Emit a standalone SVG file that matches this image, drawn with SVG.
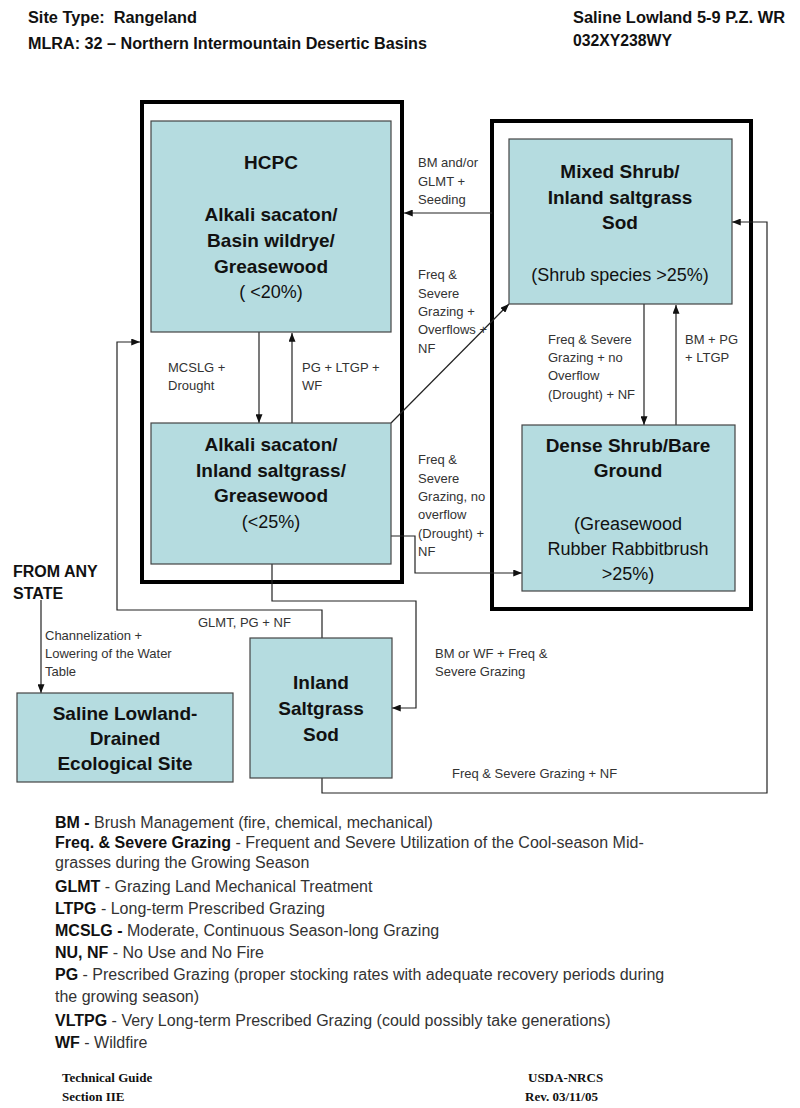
<svg xmlns="http://www.w3.org/2000/svg" width="800" height="1108" viewBox="0 0 800 1108">
<defs>
<marker id="arr" viewBox="0 0 10 8" markerWidth="9" markerHeight="7" refX="10" refY="4" orient="auto" markerUnits="userSpaceOnUse">
<path d="M0,0 L10,4 L0,8 z" fill="#111"/>
</marker>
<style>
.hdr{font-family:"Liberation Sans",Arial,sans-serif;font-size:16px;font-weight:bold;fill:#111}
.outer{fill:none;stroke:#000;stroke-width:4}
.box{fill:#b5dce0;stroke:#444;stroke-width:1.2}
.bt{font-family:"Liberation Sans",Arial,sans-serif;font-size:19px;font-weight:bold;fill:#111;text-anchor:middle}
.rt{font-family:"Liberation Sans",Arial,sans-serif;font-size:18px;fill:#111;text-anchor:middle}
.conn{fill:none;stroke:#222;stroke-width:1.2;marker-end:url(#arr)}
.line{fill:none;stroke:#222;stroke-width:1.2}
.lbl{font-family:"Liberation Sans",Arial,sans-serif;font-size:13px;fill:#333}
.leg{font-family:"Liberation Sans",Arial,sans-serif;font-size:16px;fill:#333}
.legb{font-weight:bold;fill:#111}
.ft{font-family:"Liberation Serif","Times New Roman",serif;font-size:13px;font-weight:bold;fill:#111}
</style>
</defs>
<rect width="800" height="1108" fill="#fff"/>

<g id="header">
<text class="hdr" x="28" y="22.5" xml:space="preserve" textLength="169" lengthAdjust="spacingAndGlyphs">Site Type:  Rangeland</text>
<text class="hdr" x="28" y="49" textLength="399" lengthAdjust="spacingAndGlyphs">MLRA: 32 – Northern Intermountain Desertic Basins</text>
<text class="hdr" x="573" y="22.5" textLength="212" lengthAdjust="spacingAndGlyphs">Saline Lowland 5-9 P.Z. WR</text>
<text class="hdr" x="573" y="45.5" textLength="99" lengthAdjust="spacingAndGlyphs">032XY238WY</text>
</g>

<g id="state-left"><rect class="outer" x="142" y="102" width="260" height="480"/></g>
<g id="state-right"><rect class="outer" x="492" y="121" width="259" height="488"/></g>

<g id="connectors">
<path class="conn" d="M259,332 V423"/>
<path class="conn" d="M292,423 V333"/>
<path class="conn" d="M492,213 H404"/>
<path class="conn" d="M391,423 L509,304"/>
<path class="conn" d="M644,304 V425"/>
<path class="conn" d="M676,425 V305"/>
<path class="conn" d="M391,536 H415 V573 H522"/>
<path class="conn" d="M272,564 V601 H416 V708 H392"/>
<path class="conn" d="M322,638 V610 H117 V342 H140"/>
<path class="conn" d="M322,778 V793 H767 V222 H732"/>
<path class="conn" d="M41,600 V693"/>
</g>

<g id="labels">
<text class="lbl" x="418" y="167">BM and/or</text>
<text class="lbl" x="418" y="185.5">GLMT +</text>
<text class="lbl" x="418" y="204">Seeding</text>
<text class="lbl" x="418" y="279">Freq &amp;</text>
<text class="lbl" x="418" y="297.5">Severe</text>
<text class="lbl" x="418" y="316">Grazing +</text>
<text class="lbl" x="418" y="334">Overflows +</text>
<text class="lbl" x="418" y="352.5">NF</text>
<text class="lbl" x="168" y="371.5">MCSLG +</text>
<text class="lbl" x="168" y="390">Drought</text>
<text class="lbl" x="302" y="371.5">PG + LTGP +</text>
<text class="lbl" x="302" y="390">WF</text>
<text class="lbl" x="548" y="344">Freq &amp; Severe</text>
<text class="lbl" x="548" y="362">Grazing + no</text>
<text class="lbl" x="548" y="380">Overflow</text>
<text class="lbl" x="548" y="399">(Drought) + NF</text>
<text class="lbl" x="685" y="344">BM + PG</text>
<text class="lbl" x="685" y="362">+ LTGP</text>
<text class="lbl" x="418" y="464">Freq &amp;</text>
<text class="lbl" x="418" y="482.5">Severe</text>
<text class="lbl" x="418" y="501">Grazing, no</text>
<text class="lbl" x="418" y="519">overflow</text>
<text class="lbl" x="418" y="538">(Drought) +</text>
<text class="lbl" x="418" y="556">NF</text>
<text class="lbl" x="198" y="626.5">GLMT, PG + NF</text>
<text class="lbl" x="45" y="639.5">Channelization +</text>
<text class="lbl" x="45" y="658">Lowering of the Water</text>
<text class="lbl" x="45" y="675.5">Table</text>
<text class="lbl" x="435" y="657.5">BM or WF + Freq &amp;</text>
<text class="lbl" x="435" y="675.5">Severe Grazing</text>
<text class="lbl" x="452" y="777.5">Freq &amp; Severe Grazing + NF</text>
</g>

<g id="hcpc">
<rect class="box" x="151" y="121" width="240" height="211"/>
<text class="bt" x="271" y="168.5">HCPC</text>
<text class="bt" x="271" y="221">Alkali sacaton/</text>
<text class="bt" x="271" y="247">Basin wildrye/</text>
<text class="bt" x="271" y="272.5">Greasewood</text>
<text class="rt" x="271" y="298">( &lt;20%)</text>
</g>

<g id="alkali-inland">
<rect class="box" x="151" y="423" width="240" height="141"/>
<text class="bt" x="271" y="451">Alkali sacaton/</text>
<text class="bt" x="271" y="477">Inland saltgrass/</text>
<text class="bt" x="271" y="502">Greasewood</text>
<text class="rt" x="271" y="528">(&lt;25%)</text>
</g>

<g id="mixed-shrub">
<rect class="box" x="509" y="139" width="223" height="165"/>
<text class="bt" x="620" y="178">Mixed Shrub/</text>
<text class="bt" x="620" y="203.5">Inland saltgrass</text>
<text class="bt" x="620" y="228.5">Sod</text>
<text class="rt" x="620" y="281">(Shrub species &gt;25%)</text>
</g>

<g id="dense-shrub">
<rect class="box" x="522" y="425" width="213" height="166"/>
<text class="bt" x="628" y="452">Dense Shrub/Bare</text>
<text class="bt" x="628" y="477">Ground</text>
<text class="rt" x="628" y="529.5">(Greasewood</text>
<text class="rt" x="628" y="554.5">Rubber Rabbitbrush</text>
<text class="rt" x="628" y="580">&gt;25%)</text>
</g>

<g id="inland-saltgrass">
<rect class="box" x="250" y="638" width="142" height="140"/>
<text class="bt" x="321" y="689">Inland</text>
<text class="bt" x="321" y="715">Saltgrass</text>
<text class="bt" x="321" y="741">Sod</text>
</g>

<g id="from-any-state">
<text class="hdr" x="13" y="577">FROM ANY</text>
<text class="hdr" x="13" y="598.5">STATE</text>
</g>

<g id="saline-drained">
<rect class="box" x="17" y="693" width="216" height="89"/>
<text class="bt" x="125" y="719.5">Saline Lowland-</text>
<text class="bt" x="125" y="745">Drained</text>
<text class="bt" x="125" y="770">Ecological Site</text>
</g>

<g id="legend">
<text class="leg" x="55" y="828"><tspan class="legb">BM -</tspan> Brush Management (fire, chemical, mechanical)</text>
<text class="leg" x="55" y="848"><tspan class="legb">Freq. &amp; Severe Grazing</tspan> - Frequent and Severe Utilization of the Cool-season Mid-</text>
<text class="leg" x="55" y="868">grasses during the Growing Season</text>
<text class="leg" x="55" y="892"><tspan class="legb">GLMT</tspan> - Grazing Land Mechanical Treatment</text>
<text class="leg" x="55" y="914"><tspan class="legb">LTPG</tspan> - Long-term Prescribed Grazing</text>
<text class="leg" x="55" y="936"><tspan class="legb">MCSLG -</tspan> Moderate, Continuous Season-long Grazing</text>
<text class="leg" x="55" y="958"><tspan class="legb">NU, NF</tspan> - No Use and No Fire</text>
<text class="leg" x="55" y="980"><tspan class="legb">PG</tspan> - Prescribed Grazing (proper stocking rates with adequate recovery periods during</text>
<text class="leg" x="55" y="1002">the growing season)</text>
<text class="leg" x="55" y="1026"><tspan class="legb">VLTPG</tspan> - Very Long-term Prescribed Grazing (could possibly take generations)</text>
<text class="leg" x="55" y="1048"><tspan class="legb">WF</tspan> - Wildfire</text>
</g>

<g id="footer">
<text class="ft" x="62" y="1082">Technical Guide</text>
<text class="ft" x="62" y="1101">Section IIE</text>
<text class="ft" x="528" y="1082">USDA-NRCS</text>
<text class="ft" x="525" y="1101">Rev. 03/11/05</text>
</g>
</svg>
